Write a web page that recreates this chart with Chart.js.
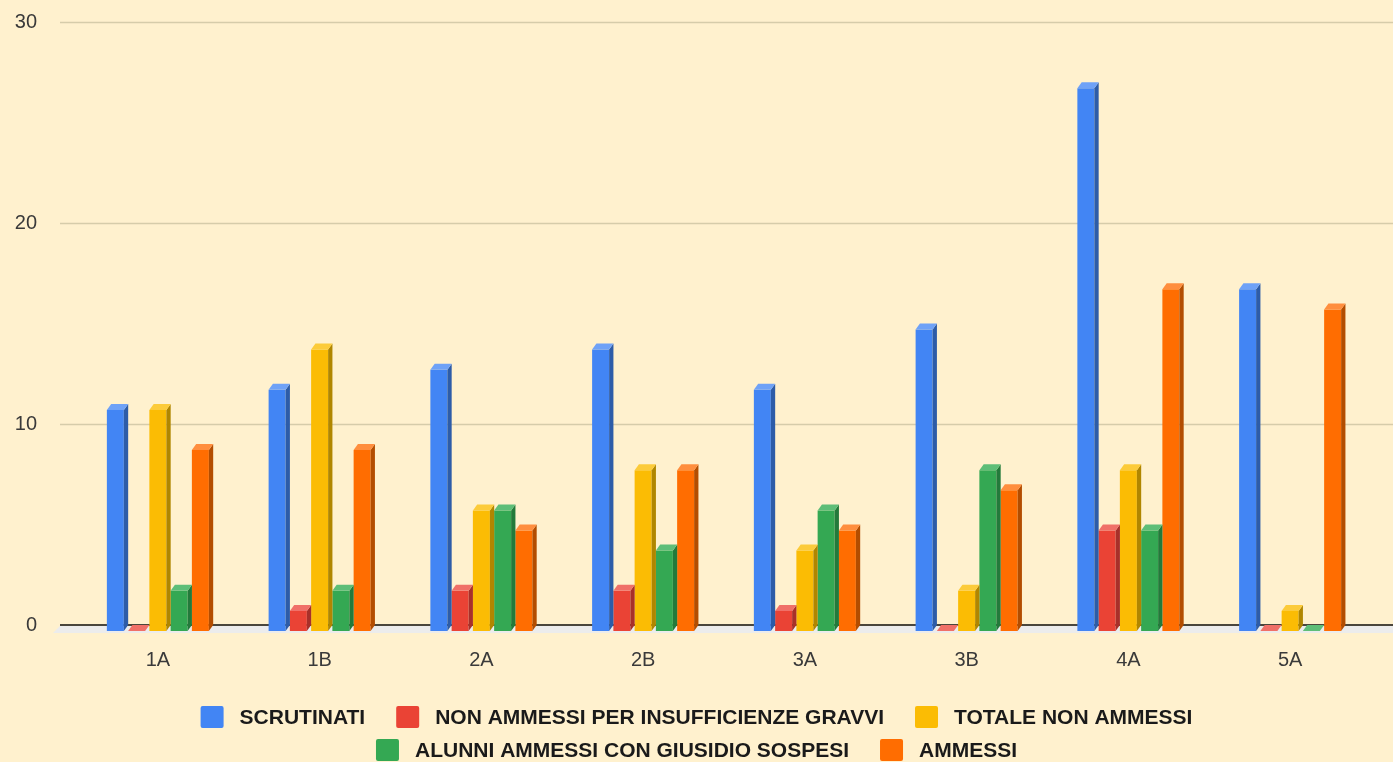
<!DOCTYPE html>
<html>
<head>
<meta charset="utf-8">
<script src="https://cdn.jsdelivr.net/npm/chart.js@4.4.1/dist/chart.umd.min.js"></script>
<style>
  html, body { margin: 0; padding: 0; background: #FFF1CE; }
  #wrap { width: 1393px; height: 762px; position: relative; }
</style>
</head>
<body>
<div id="wrap"><canvas id="c" width="1393" height="762"></canvas></div>
<script>
// ---- data ----
const categories = ['1A', '1B', '2A', '2B', '3A', '3B', '4A', '5A'];
const seriesNames = [
  'SCRUTINATI',
  'NON AMMESSI PER INSUFFICIENZE GRAVVI',
  'TOTALE NON AMMESSI',
  'ALUNNI AMMESSI CON GIUSIDIO SOSPESI',
  'AMMESSI'
];
const scrutinati      = [11, 12, 13, 14, 12, 15, 27, 17];
const nonAmmessiGravi = [0, 1, 2, 2, 1, 0, 5, 0];
const totaleNonAmm    = [11, 14, 6, 8, 4, 2, 8, 1];
const sospesi         = [2, 2, 6, 4, 6, 8, 5, 0];
const ammessi         = [9, 9, 5, 8, 5, 7, 17, 16];
const yTicks = [0, 10, 20, 30];

// ---- styles ----
const frontColors = ['#4285F4', '#EA4335', '#FBBC04', '#34A853', '#FF6D01'];
const sideColors  = ['#2D5CA8', '#A8302A', '#B08600', '#237A3B', '#B34D00'];
const topColors   = ['#6FA2F7', '#F07068', '#FCCB3A', '#5EBE78', '#FF8E3E'];
const DEPTH_Y = 6, DX = 4.3, DY = 6;

const seriesData = [scrutinati, nonAmmessiGravi, totaleNonAmm, sospesi, ammessi];

const bars3d = {
  id: 'bars3d',
  beforeDatasetsDraw(chart) {
    const ctx = chart.ctx;
    const y = chart.scales.y;
    const y0 = y.getPixelForValue(0);
    const L = 60, R = chart.width;
    ctx.save();
    // floor
    ctx.fillStyle = '#ECECEC';
    ctx.beginPath();
    ctx.moveTo(L, y0 + 1);
    ctx.lineTo(R, y0 + 1);
    ctx.lineTo(R, y0 + DEPTH_Y + 2);
    ctx.lineTo(L - 7, y0 + DEPTH_Y + 2);
    ctx.closePath();
    ctx.fill();
    // grid lines
    ctx.strokeStyle = '#D6CCAA';
    ctx.lineWidth = 1.5;
    yTicks.forEach(v => {
      if (v === 0) return;
      const py = Math.round(y.getPixelForValue(v)) + 0.5;
      ctx.beginPath(); ctx.moveTo(L, py); ctx.lineTo(R, py); ctx.stroke();
    });
    // zero line
    ctx.strokeStyle = '#4A463C';
    ctx.lineWidth = 2;
    ctx.beginPath(); ctx.moveTo(L, y0); ctx.lineTo(R, y0); ctx.stroke();
    ctx.restore();
    ctx.save();
    ctx.translate(0, DEPTH_Y);
  },
  afterDatasetsDraw(chart) {
    const ctx = chart.ctx;
    ctx.restore();
    ctx.save();
    chart.data.datasets.forEach((ds, di) => {
      const meta = chart.getDatasetMeta(di);
      meta.data.forEach(el => {
        const p = el.getProps(['x', 'y', 'base', 'width'], true);
        const left = p.x - p.width / 2, right = p.x + p.width / 2;
        const top = p.y + DEPTH_Y, bottom = p.base + DEPTH_Y;
        if (bottom - top > 0.5) {
          ctx.fillStyle = sideColors[di];
          ctx.beginPath();
          ctx.moveTo(right, top);
          ctx.lineTo(right + DX, top - DY);
          ctx.lineTo(right + DX, bottom - DY);
          ctx.lineTo(right, bottom);
          ctx.closePath();
          ctx.fill();
        }
        ctx.fillStyle = topColors[di];
        ctx.beginPath();
        ctx.moveTo(left, top);
        ctx.lineTo(left + DX, top - DY);
        ctx.lineTo(right + DX, top - DY);
        ctx.lineTo(right, top);
        ctx.closePath();
        ctx.fill();
      });
    });
    ctx.restore();
  }
};

const customLegend = {
  id: 'customLegend',
  afterDraw(chart) {
    const ctx = chart.ctx;
    ctx.save();
    ctx.font = 'bold 21px "Liberation Sans", Arial, sans-serif';
    ctx.textBaseline = 'middle';
    ctx.textAlign = 'left';
    const BOX_W = 23, BOX_H = 22, GAP = 16, ITEM_GAP = 31;
    const maxW = chart.width - 40;
    const items = chart.data.datasets.map((ds, i) => ({
      text: ds.label, color: frontColors[i],
      w: BOX_W + GAP + ctx.measureText(ds.label).width
    }));
    const rows = [[]];
    let cur = 0;
    items.forEach(it => {
      const add = (rows[rows.length - 1].length ? ITEM_GAP : 0) + it.w;
      if (rows[rows.length - 1].length && cur + add > maxW) {
        rows.push([it]); cur = it.w;
      } else { rows[rows.length - 1].push(it); cur += add; }
    });
    const rowY = [717, 750];
    rows.forEach((row, ri) => {
      const total = row.reduce((s, it) => s + it.w, 0) + ITEM_GAP * (row.length - 1);
      let x = (chart.width - total) / 2;
      const cy = rowY[ri] !== undefined ? rowY[ri] : 717 + 33 * ri;
      row.forEach(it => {
        ctx.fillStyle = it.color;
        ctx.beginPath();
        ctx.roundRect(x, cy - BOX_H / 2, BOX_W, BOX_H, 2);
        ctx.fill();
        ctx.fillStyle = '#1A1A1A';
        ctx.fillText(it.text, x + BOX_W + GAP, cy + 1);
        x += it.w + ITEM_GAP;
      });
    });
    ctx.restore();
  }
};

new Chart(document.getElementById('c'), {
  type: 'bar',
  data: {
    labels: categories,
    datasets: seriesNames.map((name, i) => ({
      label: name,
      data: seriesData[i],
      backgroundColor: frontColors[i],
      borderWidth: 0,
      categoryPercentage: 0.657,
      barPercentage: 0.8,
      clip: false
    }))
  },
  options: {
    responsive: false,
    animation: false,
    layout: { padding: { top: 22, right: 22, left: 0, bottom: 0 } },
    plugins: {
      legend: { display: false },
      tooltip: { enabled: false }
    },
    scales: {
      x: {
        grid: { display: false, drawTicks: false },
        border: { display: false },
        ticks: {
          color: '#3A3A3A',
          font: { family: '"Liberation Sans", Arial, sans-serif', size: 20 },
          padding: 23
        },
        afterFit(scale) { scale.height = 137; }
      },
      y: {
        min: 0, max: 30,
        grid: { display: false, drawTicks: false },
        border: { display: false },
        ticks: {
          stepSize: 10,
          color: '#3A3A3A',
          font: { family: '"Liberation Sans", Arial, sans-serif', size: 20 },
          padding: 40
        },
        afterFit(scale) {
          scale.width = 77;
          scale.paddingTop = 12;
          scale.paddingBottom = 12;
        }
      }
    }
  },
  plugins: [bars3d, customLegend]
});
</script>
</body>
</html>
